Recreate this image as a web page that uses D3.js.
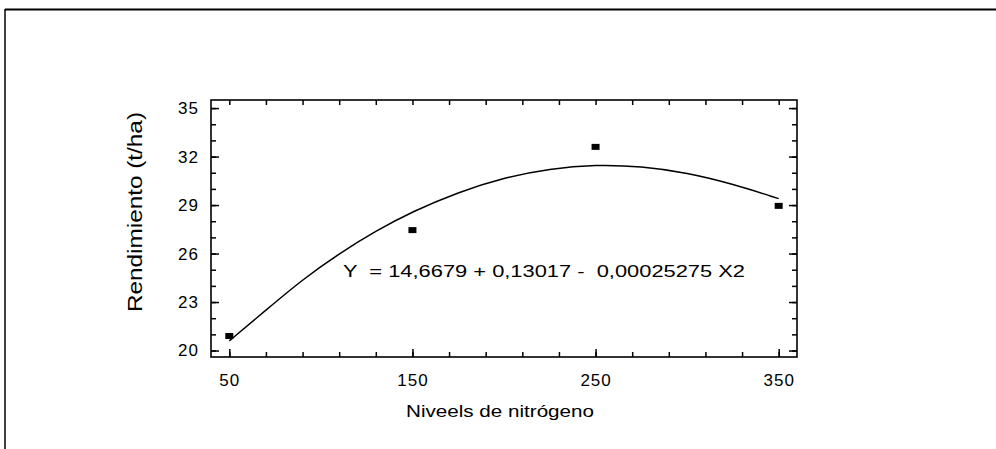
<!DOCTYPE html>
<html>
<head>
<meta charset="utf-8">
<script src="https://cdn.jsdelivr.net/npm/d3@7"></script>
<style>
  body { margin: 0; background: #fff; }
  text { font-family: "Liberation Sans", Arial, sans-serif; fill: #000; }
</style>
</head>
<body>
<script>
// observed points
var nitrogen = [50, 150, 250, 350];
var rendimiento = [20.9, 27.45, 32.6, 28.95];

// fitted curve
var curveN = [50, 70, 90, 110, 130, 150, 175, 200, 225, 250, 275, 300, 325, 350];
var curveR = [20.6, 22.5, 24.4, 26.0, 27.4, 28.6, 29.8, 30.7, 31.25, 31.5, 31.4, 31.0, 30.3, 29.4];

// tick labels
var xLabels = [50, 150, 250, 350];
var yLabels = [20, 23, 26, 29, 32, 35];

var equation = "Y  = 14,6679 + 0,13017 -  0,00025275 X2";

var width = 996;
var height = 449;

var svg = d3.select("body")
    .append("svg")
    .attr("width", width)
    .attr("height", height);

// outer frame of the scan (top and left edge only)
svg.append("line")
    .attr("x1", 5).attr("y1", 9.5).attr("x2", width).attr("y2", 9.5)
    .attr("stroke", "#000").attr("stroke-width", 2);
svg.append("line")
    .attr("x1", 5).attr("y1", 9).attr("x2", 5).attr("y2", height)
    .attr("stroke", "#000").attr("stroke-width", 1.5);

var plot = { left: 211, right: 797, top: 100, bottom: 357 };

var x = d3.scaleLinear().domain([40, 360]).range([plot.left, plot.right]);
var y = d3.scaleLinear().domain([19.6, 35.5]).range([plot.bottom, plot.top]);

var minorX = d3.range(50, 351, 20);
var minorY = d3.range(20, 36, 1);

// minor ticks, all pointing inward
svg.append("g")
    .attr("transform", "translate(0," + plot.bottom + ")")
    .call(d3.axisBottom(x).tickValues(minorX).tickSize(-5).tickFormat(""));
svg.append("g")
    .attr("transform", "translate(0," + plot.top + ")")
    .call(d3.axisTop(x).tickValues(minorX).tickSize(-5).tickFormat(""));
svg.append("g")
    .attr("transform", "translate(" + plot.left + ",0)")
    .call(d3.axisLeft(y).tickValues(minorY).tickSize(-5).tickFormat(""));
svg.append("g")
    .attr("transform", "translate(" + plot.right + ",0)")
    .call(d3.axisRight(y).tickValues(minorY).tickSize(-5).tickFormat(""));

// major ticks with labels
var xAxis = svg.append("g")
    .attr("transform", "translate(0," + plot.bottom + ")")
    .call(d3.axisBottom(x).tickValues(xLabels).tickSizeInner(-8).tickSizeOuter(0).tickPadding(17));
var yAxis = svg.append("g")
    .attr("transform", "translate(" + plot.left + ",0)")
    .call(d3.axisLeft(y).tickValues(yLabels).tickSizeInner(-8).tickSizeOuter(0).tickPadding(12));
svg.append("g")
    .attr("transform", "translate(" + plot.right + ",0)")
    .call(d3.axisRight(y).tickValues(yLabels).tickSizeInner(-8).tickSizeOuter(0).tickFormat(""));

svg.selectAll(".domain").remove();
svg.selectAll(".tick line").attr("stroke", "#000").attr("stroke-width", 1.5);

svg.selectAll(".tick text")
    .style("font-size", "17px")
    .style("letter-spacing", "1px")
    .style("font-family", "Liberation Sans, Arial, sans-serif");

// plot frame
svg.append("rect")
    .attr("x", plot.left)
    .attr("y", plot.top)
    .attr("width", plot.right - plot.left)
    .attr("height", plot.bottom - plot.top)
    .attr("fill", "none")
    .attr("stroke", "#000")
    .attr("stroke-width", 1.6);

// fitted curve
var line = d3.line()
    .x(function(d, i) { return x(curveN[i]); })
    .y(function(d) { return y(d); })
    .curve(d3.curveBasis);

svg.append("path")
    .datum(curveR)
    .attr("d", line)
    .attr("fill", "none")
    .attr("stroke", "#000")
    .attr("stroke-width", 1.5);

// data points
svg.selectAll(".pt")
    .data(rendimiento)
    .enter()
    .append("rect")
    .attr("class", "pt")
    .attr("x", function(d, i) { return x(nitrogen[i]) - 4; })
    .attr("y", function(d) { return y(d) - 3; })
    .attr("width", 8)
    .attr("height", 6)
    .attr("fill", "#000");

// equation
svg.append("text")
    .attr("x", 343)
    .attr("y", 277)
    .attr("textLength", 402)
    .attr("lengthAdjust", "spacingAndGlyphs")
    .style("font-size", "16px")
    .style("white-space", "pre")
    .text(equation);

// axis titles
svg.append("text")
    .attr("x", 500)
    .attr("y", 417)
    .attr("text-anchor", "middle")
    .attr("textLength", 188)
    .attr("lengthAdjust", "spacingAndGlyphs")
    .style("font-size", "17px")
    .text("Niveels de nitrógeno");

svg.append("text")
    .attr("transform", "translate(142,212) rotate(-90)")
    .attr("text-anchor", "middle")
    .attr("textLength", 200)
    .attr("lengthAdjust", "spacingAndGlyphs")
    .style("font-size", "20px")
    .text("Rendimiento (t/ha)");
</script>
</body>
</html>
